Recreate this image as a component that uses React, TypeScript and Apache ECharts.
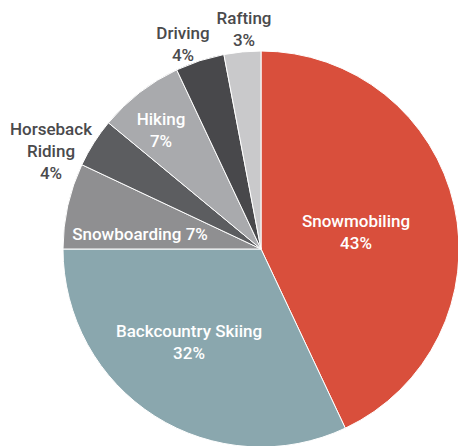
import React, { useEffect, useRef } from "react";
import * as echarts from "echarts";

const categories = [
  "Snowmobiling",
  "Backcountry Skiing",
  "Snowboarding",
  "Horseback Riding",
  "Hiking",
  "Driving",
  "Rafting",
];
const values = [43, 32, 7, 4, 7, 4, 3];
const colors = ["#d94f3c", "#8aa7ae", "#8f8f91", "#5c5d60", "#a9aaad", "#48484b", "#c9c9cb"];
const labelColors = ["#ffffff", "#ffffff", "#ffffff", "#4a4a4c", "#ffffff", "#4a4a4c", "#4a4a4c"];
const labelPos: [number, number][] = [
  [356, 232],
  [189, 342],
  [140, 234],
  [51, 151],
  [161, 130],
  [183, 44],
  [244, 29],
];

export default function App() {
  const ref = useRef<HTMLDivElement>(null);
  useEffect(() => {
    if (!ref.current) return;
    const chart = echarts.init(ref.current, undefined, { renderer: "svg" });
    chart.setOption({
      animation: false,
      series: [
        {
          type: "pie",
          center: [261, 249],
          radius: 198,
          startAngle: 90,
          clockwise: true,
          avoidLabelOverlap: false,
          itemStyle: { borderColor: "#ffffff", borderWidth: 1 },
          labelLine: { show: false },
          label: {
            show: true,
            position: "inside",
            fontFamily: "Roboto",
            fontWeight: 500,
            fontSize: 17,
            lineHeight: 22,
            align: "center",
            formatter: (p: any) => {
              const n: string = p.name;
              if (p.dataIndex === 2) return `${n} ${p.value}%`;
              return `${n.replace("Horseback ", "Horseback\n")}\n${p.value}%`;
            },
          },
          labelLayout: (params: any) => {
            const pos = labelPos[params.dataIndex];
            return { x: pos[0], y: pos[1], align: "center", verticalAlign: "middle" };
          },
          data: categories.map((c, i) => ({
            name: c,
            value: values[i],
            itemStyle: { color: colors[i] },
            label: { color: labelColors[i] },
          })),
        },
      ],
    });
    return () => chart.dispose();
  }, []);
  return (
    <div
      ref={ref}
      style={{ position: "fixed", left: 0, top: 0, width: 458, height: 446, background: "#fff" }}
    />
  );
}
